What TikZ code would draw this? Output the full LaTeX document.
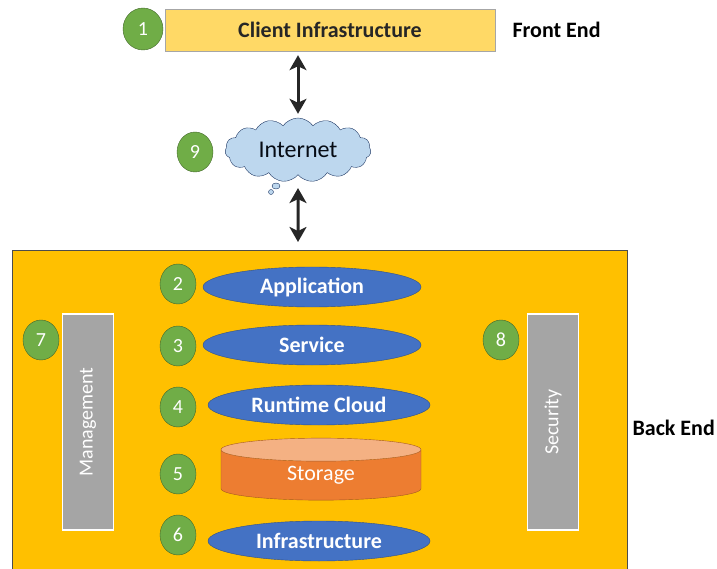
\documentclass[tikz,border=0pt]{standalone}
\usepackage{fontspec}
\setmainfont{Carlito}
\usetikzlibrary{arrows.meta}
\usetikzlibrary{positioning}
\usetikzlibrary{shapes.geometric}
\usetikzlibrary{shapes.symbols}
\definecolor{numgreen}{HTML}{70AD47}
\definecolor{layerblue}{HTML}{4472C4}
\definecolor{backgold}{HTML}{FFC000}
\definecolor{clientyellow}{HTML}{FFD966}
\definecolor{storeorange}{HTML}{ED7D31}
\definecolor{storetop}{HTML}{F4B183}
\definecolor{bargray}{HTML}{A5A5A5}
\definecolor{cloudblue}{HTML}{BDD7EE}
\definecolor{inknavy}{HTML}{1F3864}
\newcommand{\labelsize}{\fontsize{22}{26}\selectfont}
\tikzset{
  num/.style={ellipse, draw=numgreen!60!black, fill=numgreen, text=white,
    minimum width=36pt, minimum height=40pt, inner sep=0pt,
    font=\fontsize{20}{24}\selectfont},
  layer/.style={ellipse, draw=layerblue!70!black, fill=layerblue, text=white,
    minimum width=218pt, minimum height=40pt, inner sep=0pt,
    font=\labelsize\bfseries},
  bar/.style={draw=white, line width=1.5pt, fill=bargray, text=white,
    minimum width=216pt, minimum height=51pt, inner sep=0pt, rotate=90,
    font=\fontsize{20}{24}\selectfont},
  link/.style={{Stealth[length=15pt,width=17pt,inset=4pt]}-{Stealth[length=15pt,width=17pt,inset=4pt]},
    line width=3pt, draw=black!85},
  side/.style={font=\labelsize\bfseries, anchor=west}
}
\begin{document}
\begin{tikzpicture}[x=1pt, y=-1pt]
    \useasboundingbox (0,0) rectangle (717,569);

    % front end
    \node (client) [draw=black!35, fill=clientyellow, minimum width=330pt,
        minimum height=42pt, inner sep=0pt, text=black!85, font=\labelsize\bfseries]
        at (330, 30) {Client Infrastructure};
    \node (n1) [num, minimum width=40pt, minimum height=42pt] at (143, 29) {1};
    \node (front) [side] at (509, 30) {Front End};

    % internet
    \node (cloud) [cloud, cloud puffs=15, cloud puff arc=110, aspect=2.4,
        draw=inknavy, fill=cloudblue, minimum width=146pt, minimum height=64pt,
        inner sep=0pt, text=black!80!inknavy, font=\fontsize{24}{28}\selectfont]
        at (298, 150) {Internet};
    \node (bubbleA) [ellipse, draw=inknavy, fill=cloudblue, minimum width=8pt,
        minimum height=6pt, inner sep=0pt] at (276, 186) {};
    \node (bubbleB) [circle, draw=inknavy, fill=cloudblue, minimum size=5pt,
        inner sep=0pt] at (271, 192) {};
    \node (n9) [num] at (195, 152) {9};

    % back end
    \node (back) [draw=black!70, fill=backgold, minimum width=615pt,
        minimum height=330pt, inner sep=0pt, anchor=north west] at (12, 250) {};
    \node (backlabel) [side] at (629, 428) {Back End};

    \node (app) [layer] at (312, 287) {Application};
    \node (svc) [layer] at (312, 345) {Service};
    \node (run) [layer, minimum width=222pt] at (319, 405) {Runtime Cloud};
    \node (store) [cylinder, shape border rotate=90, aspect=0.34,
        minimum width=200pt, minimum height=62pt, inner sep=0pt,
        draw=storeorange!70!black, cylinder uses custom fill,
        cylinder body fill=storeorange, cylinder end fill=storetop,
        text=white, font=\fontsize{22}{26}\selectfont] at (321, 475) {Storage};
    \node (infra) [layer, minimum width=222pt] at (319, 541) {Infrastructure};

    \node (n2) [num] at (178, 284) {2};
    \node (n3) [num] at (178, 346) {3};
    \node (n4) [num] at (178, 407) {4};
    \node (n5) [num] at (178, 474) {5};
    \node (n6) [num] at (178, 535) {6};

    \node (mgmt) [bar] at (88, 422) {Management};
    \node (sec) [bar] at (553, 422) {Security};
    \node (n7) [num] at (41, 340) {7};
    \node (n8) [num] at (501, 340) {8};

    \draw[link, shorten <=4pt, shorten >=4pt] (cloud |- client.south) -- (cloud);
    \draw[link, shorten <=13pt, shorten >=8pt] (cloud) -- (cloud |- back.north);
\end{tikzpicture}
\end{document}
